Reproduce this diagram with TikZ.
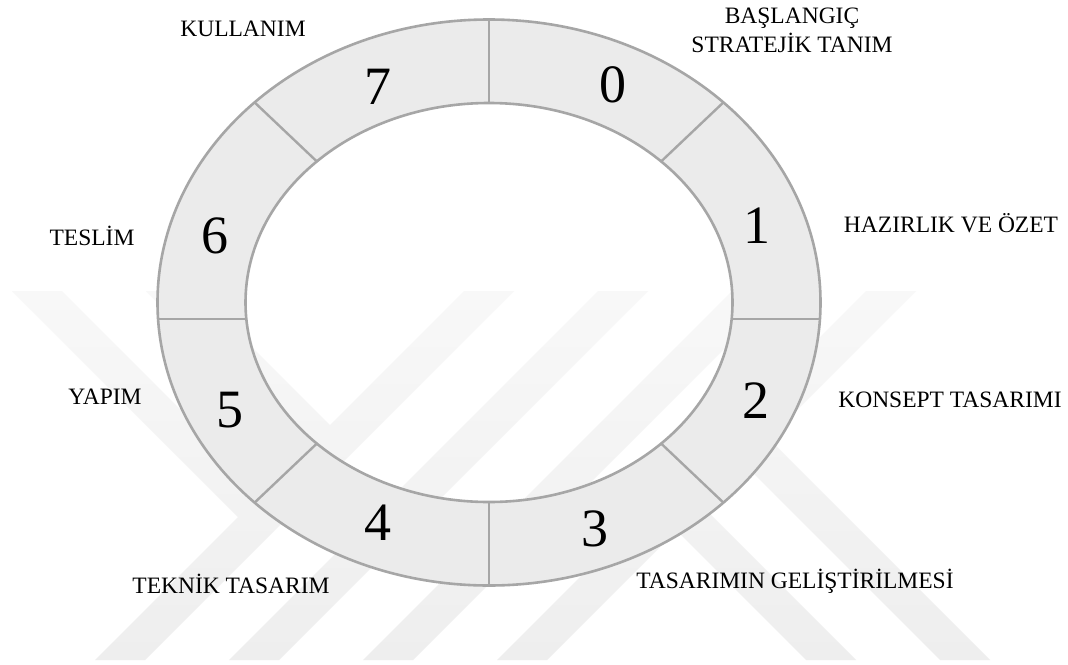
\documentclass[tikz,border=0pt]{standalone}
\usepackage{fontspec}
\setmainfont{Liberation Serif}
\definecolor{ringfill}{HTML}{EBEBEB}
\definecolor{ringline}{HTML}{A6A6A6}
\definecolor{wmtop}{HTML}{F8F8F8}
\definecolor{wmbottom}{HTML}{EEEEEE}
\begin{document}
\begin{tikzpicture}[x=1pt,y=-1pt,
  ringedge/.style={draw=ringline, line width=2.6pt},
  divider/.style={draw=ringline, line width=2.4pt},
  numlabel/.style={font=\fontsize{54}{54}\selectfont, inner sep=0pt, anchor=base},
  phase/.style={font=\fontsize{23.5}{29.5}\selectfont, inner sep=0pt, anchor=base, text=black}]
\useasboundingbox (0,0) rectangle (1068,664);
\fill[white] (0,0) rectangle (1068,664);
% watermark
\begin{scope}
\clip (12,291) -- (62,291) -- (263,492) -- (238,517) -- cycle
      (146,291) -- (196,291) -- (330,425) -- (305,450) -- cycle
      (464,291) -- (514,291) -- (145,660) -- (95,660) -- cycle
      (598,291) -- (648,291) -- (279,660) -- (229,660) -- cycle
      (732,291) -- (782,291) -- (413,660) -- (363,660) -- cycle
      (866,291) -- (916,291) -- (547,660) -- (497,660) -- cycle
      (676.5,530.5) -- (701.5,505.5) -- (856,660) -- (806,660) -- cycle
      (743.5,463.5) -- (768.5,438.5) -- (990,660) -- (940,660) -- cycle;
\shade[top color=wmtop, bottom color=wmbottom] (0,291) rectangle (1068,660);
\end{scope}
% ring
\coordinate (c) at (489,302.5);
\fill[ringfill, even odd rule] (c) ellipse [x radius=331.5pt, y radius=283pt]
  (c) ellipse [x radius=243.5pt, y radius=199.5pt];
\draw[ringedge] (c) ellipse [x radius=331.5pt, y radius=283pt];
\draw[ringedge] (c) ellipse [x radius=243.5pt, y radius=199.5pt];
% divider end points
\coordinate (tO) at (489,19.5);   \coordinate (tI) at (489,103);
\coordinate (bO) at (489,585.5);  \coordinate (bI) at (489,502);
\coordinate (trO) at (723.4,102.4); \coordinate (trI) at (661.2,161.4);
\coordinate (tlO) at (254.6,102.4); \coordinate (tlI) at (316.8,161.4);
\coordinate (brO) at (723.4,502.6); \coordinate (brI) at (661.2,443.6);
\coordinate (blO) at (254.6,502.6); \coordinate (blI) at (316.8,443.6);
\coordinate (lO) at (158,319);    \coordinate (lI) at (246.3,319);
\coordinate (rO) at (820,319);    \coordinate (rI) at (731.7,319);
\draw[divider] (tO) -- (tI);
\draw[divider] (bO) -- (bI);
\draw[divider] (trO) -- (trI);
\draw[divider] (tlO) -- (tlI);
\draw[divider] (brO) -- (brI);
\draw[divider] (blO) -- (blI);
\draw[divider] (lO) -- (lI);
\draw[divider] (rO) -- (rI);
% numbers
\node[numlabel] (n0) at (613,102) {0};
\node[numlabel] (n1) at (757,243) {1};
\node[numlabel] (n2) at (756,418) {2};
\node[numlabel] (n3) at (594.5,546) {3};
\node[numlabel] (n4) at (378,540) {4};
\node[numlabel] (n5) at (229.5,427) {5};
\node[numlabel] (n6) at (215,253) {6};
\node[numlabel] (n7) at (378,104) {7};
% phase labels
\node[phase, anchor=north, align=center] (l0) at (792,7.5) {BAŞLANGIÇ\\STRATEJİK TANIM};
\node[phase] (l1) at (951,232) {HAZIRLIK VE ÖZET};
\node[phase] (l2) at (950,407) {KONSEPT TASARIMI};
\node[phase] (l3) at (795,588) {TASARIMIN GELİŞTİRİLMESİ};
\node[phase] (l4) at (231,593) {TEKNİK TASARIM};
\node[phase] (l5) at (105,404) {YAPIM};
\node[phase] (l6) at (92,245) {TESLİM};
\node[phase] (l7) at (243,36) {KULLANIM};
\end{tikzpicture}
\end{document}
